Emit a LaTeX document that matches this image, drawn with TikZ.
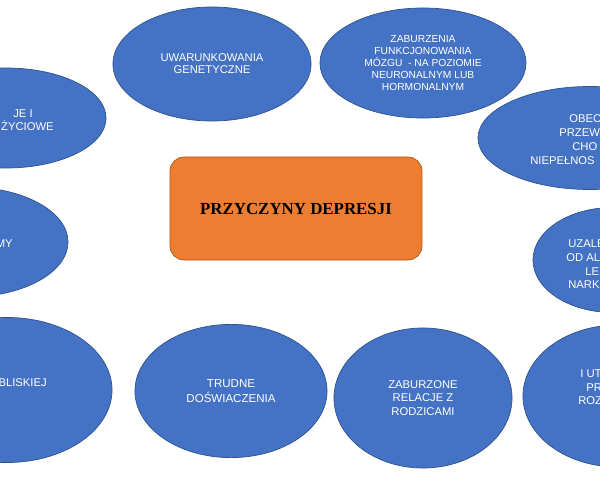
\documentclass[tikz,border=0pt]{standalone}
\usepackage{fontspec}
\newfontfamily\labelfont{Liberation Sans}
\newfontfamily\titlefont{Liberation Serif}
\usetikzlibrary{shapes.geometric}
\definecolor{bubblefill}{HTML}{4472C4}
\definecolor{bubbleline}{HTML}{2F528F}
\definecolor{titlefill}{HTML}{ED7D31}
\definecolor{titleline}{HTML}{AE5A21}
\begin{document}
\begin{tikzpicture}[x=0.025cm,y=-0.025cm,
        bubble/.style={ellipse,draw=bubbleline,fill=bubblefill,line width=0.5pt,inner sep=0pt,
            align=center,text=white,font=\labelfont\fontsize{8}{9.5}\selectfont},
        cut/.style={inner sep=0pt,text=white,font=\labelfont\fontsize{8}{9.5}\selectfont}]
    \useasboundingbox (0,0) rectangle (600,480);
    \clip (0,0) rectangle (600,480);
    % upper row
    \node[bubble,minimum width=4.95cm,minimum height=2.85cm,font=\labelfont\fontsize{8}{8.7}\selectfont] (gen) at (212,64) {UWARUNKOWANIA\\GENETYCZNE};
    \node[bubble,minimum width=5.15cm,minimum height=2.75cm,font=\labelfont\fontsize{7.3}{8.6}\selectfont] (mozg) at (423,63)
        {ZABURZENIA\\FUNKCJONOWANIA\\MÓZGU~~- NA POZIOMIE\\NEURONALNYM LUB\\HORMONALNYM};
    % left edge
    \node[bubble,minimum width=5cm,minimum height=2.5cm] (sytuacje) at (6,118) {};
    \node[bubble,minimum width=5cm,minimum height=2.75cm] (traumy) at (-32,242) {};
    \node[bubble,minimum width=5.25cm,minimum height=3.625cm] (strata) at (7,390) {};
    % lower row
    \node[bubble,minimum width=4.8cm,minimum height=3.33cm,font=\labelfont\fontsize{8.2}{10.5}\selectfont] (trudne) at (231,391) {TRUDNE\\DOŚWIACZENIA};
    \node[bubble,minimum width=4.45cm,minimum height=3.5cm] (relacje) at (423,398) {ZABURZONE\\RELACJE Z\\RODZICAMI};
    % right edge
    \node[bubble,minimum width=5.6cm,minimum height=2.575cm] (choroba) at (590,138) {};
    \node[bubble,minimum width=4cm,minimum height=2.625cm] (uzal) at (613,260) {};
    \node[bubble,minimum width=4.75cm,minimum height=3.55cm] (rozwod) at (618,396) {};
    % texts cut by the frame
    \foreach \txt/\px/\py/\side [count=\i] in {JE I/33/117/east,ŻYCIOWE/54/130/east,MY/13/247/east,BLISKIEJ/47/386/east,
            OBEC/569/122/west,PRZEW/559/136/west,CHO/572/150/west,NIEPEŁNOS/530/164/west,
            UZALE/568/247/west,OD AL/566/261/west,LE/585/275/west,NARK/568/288/west,
            I UT/580/377/west,PR/586/391/west,ROZ/578/404/west}
        \node[cut,anchor=base \side] (part\i) at (\px,\py) {\txt};
    % centre
    \node[draw=titleline,fill=titlefill,line width=0.5pt,rounded corners=0.35cm,minimum width=6.3cm,minimum height=2.575cm,
        font=\titlefont\bfseries\fontsize{12}{14}\selectfont] (przyczyny) at (296,208.5) {PRZYCZYNY DEPRESJI};
\end{tikzpicture}
\end{document}
